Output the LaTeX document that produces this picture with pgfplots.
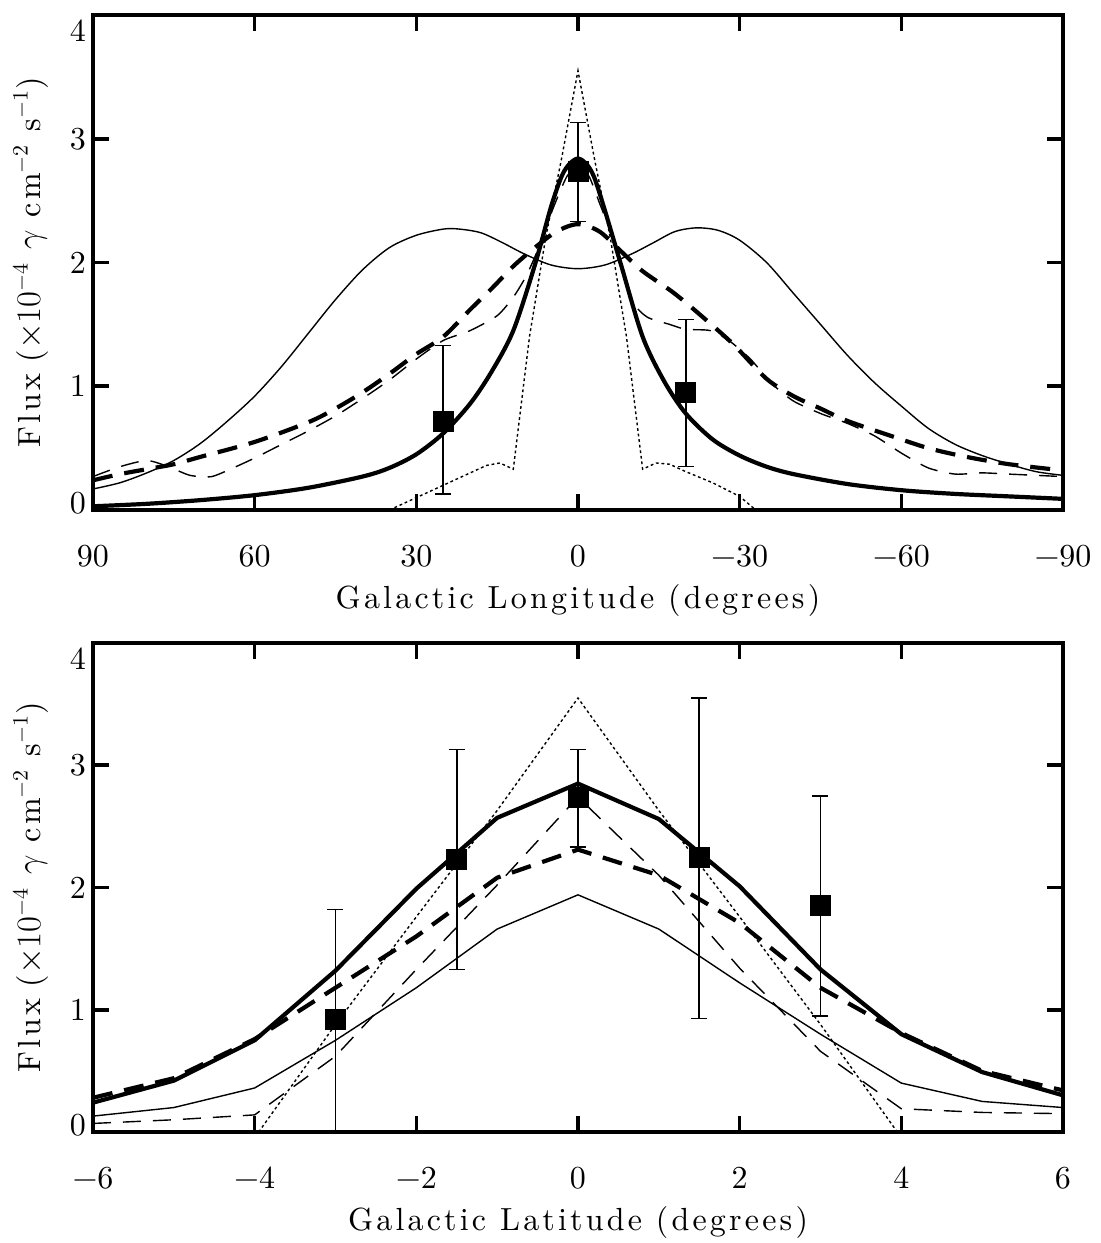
\documentclass[border=0pt]{standalone}
\usepackage{fontspec}
\setmainfont{lmroman10-regular.otf}[ItalicFont=lmroman10-italic.otf, BoldFont=lmroman10-bold.otf]
\usepackage{pgfplots}
\pgfplotsset{compat=1.18}
\newcommand{\lsp}{\addfontfeatures{LetterSpace=10}}
\pgfplotsset{
  fluxaxis/.style={
    scale only axis, width=485pt,
    ymin=0, ymax=4,
    ytick={0,1,2,3,4},
    yticklabels={\raisebox{3.5pt}[\height][\depth]{0},1,2,3,\raisebox{-8pt}[\height][\depth]{4}},
    axis line style={line width=2pt},
    tick style={line width=1.8pt, black},
    major tick length=8pt,
    tick align=inside,
    xtick pos=both, ytick pos=both,
    minor tick num=0,
    axis on top,
    tick label style={font=\fontsize{16}{18}\selectfont},
    every x tick label/.append style={anchor=center, yshift=-23pt},
    ylabel={\lsp Flux\hspace{0.35em}($\times10^{-4}$\hspace{0.4em}$\gamma$\hspace{0.4em}cm$^{-2}$\hspace{0.4em}s$^{-1}$)},
    ylabel style={font=\fontsize{16}{18}\selectfont, at={(axis description cs:-0.064,0.5)}, anchor=center},
    xlabel style={font=\fontsize{16}{18}\selectfont, anchor=center},
    clip=true,
  },
  thinsolid/.style={black, line width=0.7pt},
  thicksolid/.style={black, line width=2.1pt},
  thickdash/.style={black, line width=2.1pt, dash pattern=on 10pt off 6pt},
  thindash/.style={black, line width=0.7pt, dash pattern=on 9pt off 6pt},
  dotline/.style={black, line width=0.7pt, dash pattern=on 1.4pt off 1.4pt},
  datapts/.style={black, only marks, mark=square*, mark size=5pt,
    error bars/.cd, y dir=both, y explicit,
    error bar style={line width=0.8pt, black},
    error mark options={rotate=90, mark size=4pt, line width=0.8pt, black}},
}
\begin{document}
\begin{tikzpicture}
\path[use as bounding box] (-46.5pt,-366.5pt) rectangle (503.5pt,255pt);
% ---------------- top panel: longitude ----------------
\begin{axis}[fluxaxis,
  at={(0,0)}, anchor=south west, height=247.5pt,
  xmin=-90, xmax=90, x dir=reverse,
  xtick={90,60,30,0,-30,-60,-90},
  xticklabels={90,60,30,0,{−30},{−60},{−90}},
  xlabel={\lsp Galactic Longitude (degrees)},
  xlabel style={at={(axis description cs:0.5,-0.182)}},
]
\addplot[thinsolid, smooth] coordinates {
(90,0.17) (85,0.22) (80,0.30) (75,0.40) (70,0.54) (65,0.72) (60,0.92) (55,1.16)
(50,1.43) (45,1.70) (40,1.94) (35,2.12) (30,2.22) (25,2.27) (22,2.27) (18,2.24)
(14,2.16) (10,2.07) (5,1.98) (0,1.95) (-5,1.98) (-10,2.07) (-14,2.16) (-18,2.25)
(-22,2.28) (-26,2.26) (-30,2.18) (-35,2.00) (-40,1.75) (-45,1.50) (-50,1.25)
(-55,1.03) (-60,0.84) (-65,0.66) (-70,0.53) (-75,0.44) (-80,0.37) (-85,0.31) (-90,0.28)};
\addplot[thicksolid, smooth] coordinates {
(90,0.03) (80,0.05) (70,0.08) (60,0.12) (50,0.18) (40,0.27) (35,0.34) (30,0.45)
(25,0.62) (20,0.86) (16,1.12) (12,1.45) (8,1.98) (5,2.45) (3,2.70) (1.5,2.80)
(0,2.84) (-1.5,2.80) (-3,2.69) (-5,2.42) (-8,1.98) (-12,1.40) (-16,1.04) (-20,0.78)
(-25,0.57) (-30,0.44) (-35,0.35) (-40,0.29) (-50,0.21) (-60,0.16) (-70,0.13)
(-80,0.11) (-90,0.09)};
\addplot[thickdash, smooth] coordinates {
(90,0.24) (85,0.29) (80,0.33) (75,0.37) (70,0.43) (60,0.55) (50,0.71) (45,0.82)
(40,0.95) (35,1.10) (30,1.26) (25,1.40) (20,1.62) (16,1.79) (12,1.97) (8,2.12)
(4,2.25) (0,2.31) (-4,2.25) (-8,2.09) (-12,1.93) (-17.6,1.76) (-22.6,1.58)
(-28.8,1.34) (-35,1.06) (-40,0.92) (-45,0.82) (-50,0.72) (-58,0.60) (-65,0.50)
(-72,0.43) (-80,0.37) (-90,0.32)};
\addplot[thindash, smooth, tension=0.4] coordinates {
(90,0.27) (85,0.35) (80,0.40) (76,0.35) (72,0.28) (68,0.27) (64,0.34) (60,0.42)
(55,0.53) (50,0.64) (45,0.76) (40,0.90) (35,1.05) (30,1.22) (25,1.37) (20,1.45)
(15,1.57) (12,1.72) (9.5,1.90) (7,2.15) (4.6,2.44) (2,2.70) (0,2.76) (-2,2.70)
(-4,2.48) (-6.5,2.19) (-10,1.70) (-12.8,1.56) (-17,1.50) (-20,1.46) (-24.5,1.45)
(-28,1.37) (-32,1.22) (-36,1.02) (-40,0.88) (-45,0.78) (-50,0.70) (-55,0.60)
(-60,0.46) (-65,0.34) (-70,0.29) (-75,0.30) (-80,0.29) (-90,0.27)};
\addplot[dotline] coordinates {
(35,0) (30,0.10) (25,0.20) (20,0.30) (17,0.36) (14.5,0.38) (12,0.33) (9,1.40)
(6,2.20) (3,2.85) (0,3.55) (-3,2.85) (-6,2.20) (-9,1.40) (-12,0.33) (-14.5,0.38)
(-17,0.37) (-20,0.31) (-25,0.22) (-30,0.11) (-33,0)};
\addplot[datapts] coordinates {
(25,0.72) += (0,0.61) -= (0,0.59)
(0,2.74) += (0,0.39) -= (0,0.41)
(-20,0.95) += (0,0.59) -= (0,0.60)};
\end{axis}
% ---------------- bottom panel: latitude ----------------
\begin{axis}[fluxaxis,
  at={(0,-66.5pt)}, anchor=north west, height=244.5pt,
  xmin=-6, xmax=6,
  xtick={-6,-4,-2,0,2,4,6},
  xticklabels={{−6},{−4},{−2},0,2,4,6},
  xlabel={\lsp Galactic Latitude (degrees)},
  xlabel style={at={(axis description cs:0.5,-0.186)}},
]
\addplot[thinsolid] coordinates {
(-6,0.13) (-5,0.20) (-4,0.36) (-3,0.75) (-2,1.18) (-1,1.66) (0,1.94)
(1,1.66) (2,1.22) (3,0.80) (4,0.40) (5,0.25) (6,0.20)};
\addplot[thicksolid] coordinates {
(-6,0.24) (-5,0.42) (-4,0.75) (-3,1.32) (-2,1.99) (-1,2.57) (0,2.85)
(1,2.56) (2,2.01) (3,1.33) (4,0.80) (5,0.49) (6,0.30)};
\addplot[thickdash] coordinates {
(-6,0.28) (-5,0.44) (-4,0.76) (-3,1.18) (-2,1.60) (-1,2.08) (0,2.31)
(1,2.10) (2,1.71) (3,1.18) (4,0.81) (5,0.50) (6,0.34)};
\addplot[thindash] coordinates {
(-6,0.07) (-5,0.10) (-4,0.14) (-3,0.62) (-2,1.33) (-1,2.02) (0,2.74)
(1,2.10) (2,1.34) (3,0.66) (4,0.19) (5,0.16) (6,0.15)};
\addplot[dotline] coordinates {
(-3.95,0) (-3,0.88) (-2,1.76) (-1,2.63) (0,3.55) (1,2.63) (2,1.76) (3,0.88) (3.95,0)};
\addplot[datapts] coordinates {
(-3,0.92) += (0,0.90) -= (0,0.97)
(-1.5,2.23) += (0,0.90) -= (0,0.90)
(0,2.74) += (0,0.39) -= (0,0.41)
(1.5,2.25) += (0,1.30) -= (0,1.32)
(3,1.85) += (0,0.90) -= (0,0.90)};
\end{axis}
\end{tikzpicture}
\end{document}
